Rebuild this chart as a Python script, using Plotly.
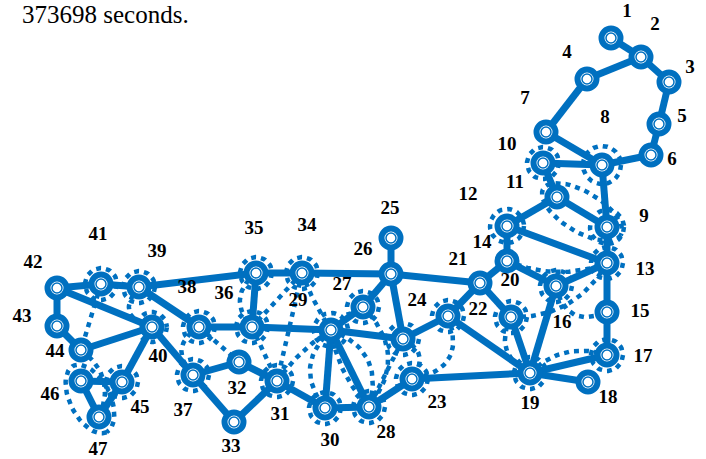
import numpy as np
import plotly.graph_objects as go

# ---------------- data ----------------
title_text = "373698 seconds."

node_ids = list(range(1, 48))
node_x = [611, 641, 669, 587, 659, 651, 546, 602, 607, 543,
          557, 507, 607, 507, 607, 556, 607, 588, 530, 511,
          480, 448, 412, 403, 391, 391, 363, 369, 331, 325,
          277, 239, 234, 302, 256, 252, 193, 199, 139, 152,
          101, 57, 57, 81, 122, 81, 99]
node_y = [38, 57, 82, 79, 124, 155, 132, 165, 227, 163,
          197, 226, 263, 261, 312, 286, 355, 382, 373, 317,
          283, 316, 379, 339, 238, 274, 307, 407, 330, 408,
          381, 362, 422, 273, 273, 327, 375, 327, 287, 327,
          284, 288, 326, 350, 382, 381, 417]

label_x = [627, 655, 690, 567, 682, 672, 525, 605, 644, 507,
           515, 468, 645, 482, 640, 562, 643, 608, 530, 510,
           458, 478, 437, 417, 390, 363, 342, 386, 298, 330,
           280, 237, 231, 307, 254, 224, 183, 187, 157, 158,
           98, 33, 22, 55, 140, 50, 98]
label_y = [12, 25, 68, 53, 117, 160, 99, 118, 217, 145,
           183, 195, 270, 243, 312, 323, 357, 398, 404, 281,
           260, 310, 403, 301, 209, 250, 285, 433, 301, 441,
           415, 389, 447, 226, 229, 294, 411, 288, 252, 357,
           235, 263, 317, 352, 408, 395, 450]

solid_edges = [(1, 2), (2, 3), (2, 4), (4, 7), (3, 5), (5, 6), (6, 8), (7, 8),
               (10, 8), (8, 9), (10, 11), (11, 12), (11, 9), (12, 13), (9, 13),
               (12, 14), (14, 16), (16, 13), (13, 15), (15, 17), (17, 19),
               (19, 18), (16, 19), (20, 19), (21, 20), (21, 22), (21, 14),
               (26, 21), (22, 19), (23, 19), (25, 26), (26, 34), (26, 27),
               (26, 24), (27, 29), (29, 24), (29, 36), (29, 30), (29, 28),
               (30, 28), (28, 23), (24, 22), (35, 34), (39, 35), (35, 36),
               (38, 36), (32, 37), (32, 31), (37, 33), (33, 31), (31, 30),
               (39, 38), (40, 37), (42, 41), (41, 39), (42, 40), (42, 43),
               (43, 44), (44, 40), (40, 45), (46, 45), (46, 47), (47, 45)]

# dotted candidate links: (from, to, bend)
dotted_edges = [(14, 13, 0.10), (20, 13, 0.15), (16, 15, 0.30), (20, 19, 0.25),
                (22, 23, -0.30), (19, 17, -0.15), (35, 36, 0.26), (34, 36, 0.0),
                (34, 29, 0.03), (34, 31, 0.0), (29, 31, 0.05), (29, 30, 0.23),
                (36, 31, 0.0), (38, 32, 0.0), (38, 37, 0.30), (29, 28, -0.23),
                (29, 28, 0.08), (27, 28, -0.22), (24, 23, -0.30), (24, 28, 0.0),
                (39, 40, 0.40), (41, 44, 0.0), (44, 47, -0.20)]

ring_nodes = [8, 9, 10, 12, 13, 16, 17, 19, 20, 22, 23, 24, 27, 28, 29, 30,
              31, 34, 35, 36, 37, 38, 39, 40, 41, 45]
ring_radius = [19, 17, 16, 17, 16, 16, 16, 16, 16, 16, 16, 16, 16, 16, 17, 16,
               16, 16, 16, 16, 16, 16, 16, 15, 16, 16]

# dotted loops enclosing a pair of buses: (a, b, extra length, half width)
loop_pairs = [(11, 9, 16, 20), (46, 47, 17, 20)]

BLUE = "rgb(0,112,192)"
pos = {i: (x, y) for i, x, y in zip(node_ids, node_x, node_y)}

fig = go.Figure()

# ---------------- dotted layer ----------------
dx_all, dy_all = [], []
t = np.linspace(0, 1, 30)
for a, b, bend in dotted_edges:
    (x0, y0), (x1, y1) = pos[a], pos[b]
    L = np.hypot(x1 - x0, y1 - y0)
    px, py = -(y1 - y0) / L, (x1 - x0) / L
    cx = (x0 + x1) / 2 + 2 * bend * L * px
    cy = (y0 + y1) / 2 + 2 * bend * L * py
    bx = (1 - t) ** 2 * x0 + 2 * (1 - t) * t * cx + t ** 2 * x1
    by = (1 - t) ** 2 * y0 + 2 * (1 - t) * t * cy + t ** 2 * y1
    dx_all += list(bx) + [None]
    dy_all += list(by) + [None]

th = np.linspace(0, 2 * np.pi, 60)
for n, r in zip(ring_nodes, ring_radius):
    x, y = pos[n]
    dx_all += list(x + r * np.cos(th)) + [None]
    dy_all += list(y + r * np.sin(th)) + [None]

for a, b, extra, hw in loop_pairs:
    (x0, y0), (x1, y1) = pos[a], pos[b]
    L = np.hypot(x1 - x0, y1 - y0)
    ux, uy = (x1 - x0) / L, (y1 - y0) / L
    mx, my = (x0 + x1) / 2, (y0 + y1) / 2
    A = L / 2 + extra
    ex = mx + A * np.cos(th) * ux - hw * np.sin(th) * uy
    ey = my + A * np.cos(th) * uy + hw * np.sin(th) * ux
    dx_all += list(ex) + [None]
    dy_all += list(ey) + [None]

fig.add_trace(go.Scatter(x=dx_all, y=dy_all, mode="lines",
                         line=dict(color=BLUE, width=4.5, dash="5px,5px"),
                         hoverinfo="skip", showlegend=False))

# ---------------- solid lines ----------------
sx, sy = [], []
for a, b in solid_edges:
    sx += [pos[a][0], pos[b][0], None]
    sy += [pos[a][1], pos[b][1], None]
fig.add_trace(go.Scatter(x=sx, y=sy, mode="lines",
                         line=dict(color=BLUE, width=7),
                         hoverinfo="skip", showlegend=False))

# ---------------- buses ----------------
fig.add_trace(go.Scatter(x=node_x, y=node_y, mode="markers",
                         marker=dict(size=19, color="white",
                                     line=dict(color=BLUE, width=6)),
                         hoverinfo="skip", showlegend=False))
fig.add_trace(go.Scatter(x=node_x, y=node_y, mode="markers",
                         marker=dict(size=10, color="white",
                                     line=dict(color=BLUE, width=1.5)),
                         hoverinfo="skip", showlegend=False))

# ---------------- labels ----------------
fig.add_trace(go.Scatter(x=label_x, y=label_y, mode="text",
                         text=["<b>%d</b>" % i for i in node_ids],
                         textposition="middle center",
                         textfont=dict(family="Liberation Serif", size=19, color="black"),
                         hoverinfo="skip", showlegend=False))

fig.add_annotation(x=20, y=14, xref="x", yref="y", text=title_text,
                   showarrow=False, xanchor="left", yanchor="middle",
                   font=dict(family="Liberation Serif", size=25, color="black"))

fig.update_layout(width=706, height=459, margin=dict(l=0, r=0, t=0, b=0),
                  paper_bgcolor="white", plot_bgcolor="white",
                  xaxis=dict(range=[0, 706], visible=False, fixedrange=True),
                  yaxis=dict(range=[459, 0], visible=False, fixedrange=True),
                  showlegend=False)

fig.write_html("out.html", config={"displayModeBar": False},
               post_script="document.body.style.margin='0';")
